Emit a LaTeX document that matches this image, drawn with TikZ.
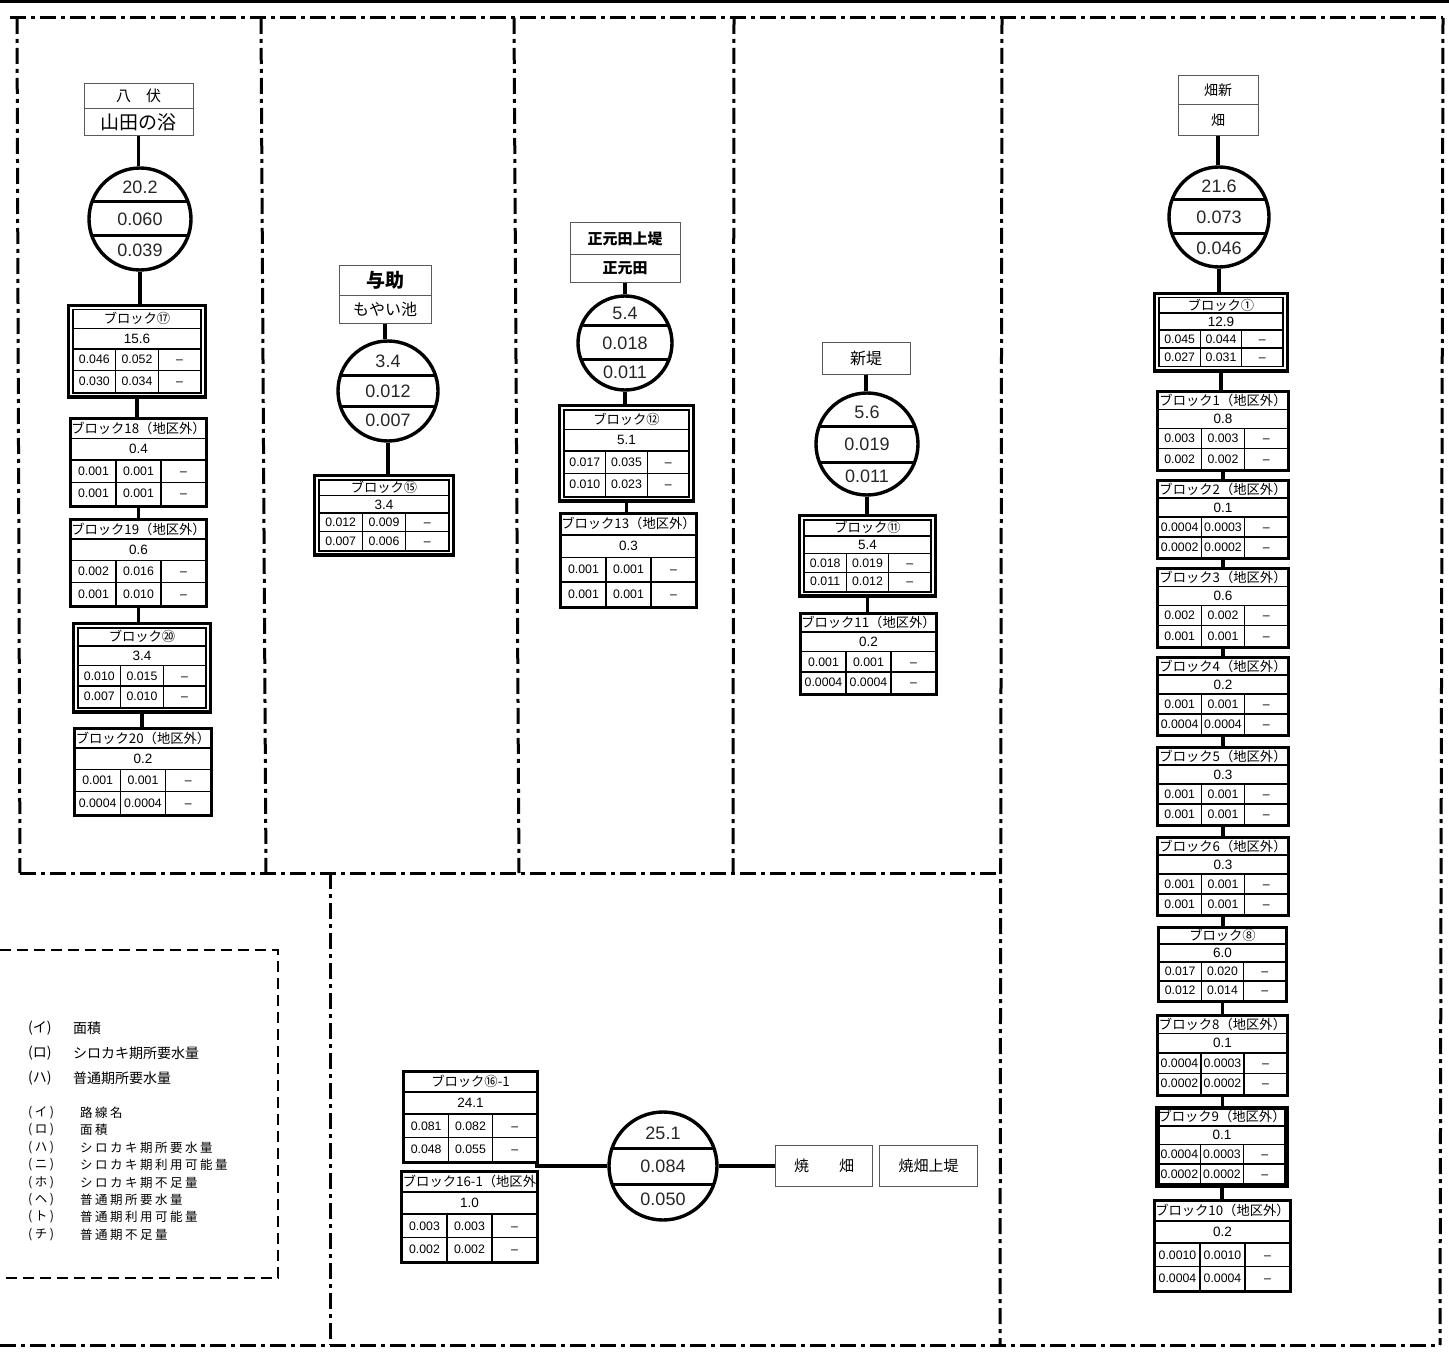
\documentclass[tikz,border=0pt]{standalone}
\usepackage{fontspec}
\setmainfont{Noto Sans CJK JP}
\newfontfamily\numf{Liberation Sans}
\usetikzlibrary{fit,calc}
\newcommand\fs[1]{\fontsize{#1}{#1}\selectfont}
\newcommand\nodash{\vphantom{0}–}
\def\blkdata#1/#2/#3/#4\relax{\def\dA{#1}\def\dB{#2}\def\dC{#3}\def\dD{#4}}
\tikzset{
  frame/.style={line width=3pt, dash pattern=on 16pt off 5pt on 4pt off 5pt},
  legendbox/.style={line width=2.6pt, dash pattern=on 11pt off 6pt},
  tbl/.style={draw, line width=1.5pt, inner sep=0pt, fill=white},
  cell/.style={line width=1.5pt},
  plain/.style={draw, line width=2.6pt, inner sep=0pt},
  hl/.style={draw, line width=3.6pt, inner sep=3.6pt},
  heavy/.style={draw, line width=4.6pt, inner sep=0pt},
  ttl/.style={inner sep=0pt, font=\fs{13.3}},
  val/.style={inner sep=0pt, font=\numf\fs{13.5}},
  dat/.style={inner sep=0pt, font=\numf\fs{12.3}},
  chord/.style={line width=3pt},
  tankc/.style={circle, draw, line width=3.4pt, inner sep=0pt},
  tnum/.style={inner sep=0pt, font=\numf\fs{18}, text=black!85},
  hdr/.style={draw=black!65, line width=1pt, inner sep=0pt, fill=white},
  conn/.style={line width=3.4pt},
  lgA/.style={inner sep=0pt, anchor=west, font=\fs{14}},
  lgB/.style={inner sep=0pt, anchor=west, font=\fs{12.5}\addfontfeature{LetterSpace=20}},
}
\newcommand\blk[9]{%
  \blkdata#9\relax
  \pgfmathsetmacro\yT{#3}%
  \pgfmathsetmacro\ya{#3+0.235*#5}%
  \pgfmathsetmacro\yb{#3+0.48*#5}%
  \pgfmathsetmacro\yc{#3+0.74*#5}%
  \pgfmathsetmacro\ye{#3+#5}%
  \pgfmathsetmacro\xl{#2-#4/2}%
  \pgfmathsetmacro\xr{#2+#4/2}%
  \pgfmathsetmacro\xa{#2-#4/6}%
  \pgfmathsetmacro\xb{#2+#4/6}%
  \node[tbl, minimum width=#4, minimum height=#5, anchor=north] (#1-t) at (#2,#3) {};
  \draw[cell] (\xl,\ya) -- (\xr,\ya) (\xl,\yb) -- (\xr,\yb) (\xl,\yc) -- (\xr,\yc)
              (\xa,\yb) -- (\xa,\ye) (\xb,\yb) -- (\xb,\ye);
  \node[ttl] (#1-n) at (#2,{(\yT+\ya)/2}) {#7};
  \node[val] (#1-v) at (#2,{(\ya+\yb)/2}) {#8};
  \node[dat] (#1-a) at ({(\xl+\xa)/2},{(\yb+\yc)/2}) {\dA};
  \node[dat] (#1-b) at ({(\xa+\xb)/2},{(\yb+\yc)/2}) {\dB};
  \node[dat] (#1-c) at ({(\xb+\xr)/2},{(\yb+\yc)/2}) {\nodash};
  \node[dat] (#1-d) at ({(\xl+\xa)/2},{(\yc+\ye)/2}) {\dC};
  \node[dat] (#1-e) at ({(\xa+\xb)/2},{(\yc+\ye)/2}) {\dD};
  \node[dat] (#1-f) at ({(\xb+\xr)/2},{(\yc+\ye)/2}) {\nodash};
  \node[fit=(#1-t), #6] (#1) {};
}
\newcommand\tank[8]{%
  \begin{scope}
    \clip (#2,#3) circle[radius=#4];
    \draw[chord] ({#2-#4},{#3-#5}) -- ({#2+#4},{#3-#5}) ({#2-#4},{#3+#5}) -- ({#2+#4},{#3+#5});
  \end{scope}
  \node[tankc, minimum size={2*#4}] (#1) at (#2,#3) {};
  \node[tnum] (#1-a) at (#2,{#3-#5-0.42*(#4-#5)}) {#6};
  \node[tnum] (#1-b) at (#2,#3) {#7};
  \node[tnum] (#1-c) at (#2,{#3+#5+0.42*(#4-#5)}) {#8};
}
\begin{document}
\begin{tikzpicture}[x=1pt,y=-1pt]
\path[use as bounding box, fill=white] (0,0) rectangle (1449,1356);
% page frame lines
\draw[line width=3pt] (0,1.5) -- (1449,1.5);
\draw[frame] (10,18) -- (1443,18);
\draw[frame] (17,18) -- (20,873);
\draw[frame] (261,18) -- (266,873);
\draw[frame] (514,18) -- (519,873);
\draw[frame] (734,18) -- (733,873);
\draw[frame] (1002,18) -- (1000,1345);
\draw[frame] (1443,18) -- (1440,1345);
\draw[frame] (20,873) -- (1000,873);
\draw[frame] (330,873) -- (330,1345);
\draw[frame] (0,1345) -- (1440,1345);
\draw[legendbox] (0,950) -- (278,950) -- (278,1278) -- (0,1278);

% ---------- column 1
\node[hdr, minimum width=109, minimum height=25, anchor=north, font=\fs{15}] (h1a) at (138.5,83) {八　伏};
\node[hdr, minimum width=109, minimum height=27, anchor=north, font=\fs{19}] (h1b) at (138.5,108) {山田の浴};
\tank{c1}{140}{219}{51}{17}{20.2}{0.060}{0.039}
\blk{b17}{137}{309}{128}{83}{hl}{ブロック⑰}{15.6}{0.046/0.052/0.030/0.034}
\blk{b18}{138.5}{418}{135}{87}{plain}{ブロック18（地区外）}{0.4}{0.001/0.001/0.001/0.001}
\blk{b19}{138.5}{519}{135}{86}{plain}{ブロック19（地区外）}{0.6}{0.002/0.016/0.001/0.010}
\blk{b20c}{142}{627}{128}{80}{hl}{ブロック⑳}{3.4}{0.010/0.015/0.007/0.010}
\blk{b20}{143}{728}{136}{86}{plain}{ブロック20（地区外）}{0.2}{0.001/0.001/0.0004/0.0004}
\draw[conn] (h1b.south) -- (h1b.south |- c1.north);
\draw[conn] (c1.south) -- (c1.south |- b17.north);
\draw[conn] (b17.south) -- (b17.south |- b18.north);
\draw[conn] (b18.south) -- (b18.south |- b19.north);
\draw[conn] (b19.south) -- (b19.south |- b20c.north);
\draw[conn] (b20c.south) -- (b20c.south |- b20.north);

% ---------- column 2
\node[hdr, minimum width=92, minimum height=30, anchor=north, font=\fs{19}\bfseries] (h2a) at (385,265) {与助};
\node[hdr, minimum width=92, minimum height=28, anchor=north, font=\fs{16}] (h2b) at (385,295) {もやい池};
\tank{c2}{388}{391}{50}{15}{3.4}{0.012}{0.007}
\blk{b15}{384}{479}{130}{71}{hl}{ブロック⑮}{3.4}{0.012/0.009/0.007/0.006}
\draw[conn] (h2b.south) -- (h2b.south |- c2.north);
\draw[conn] (c2.south) -- (c2.south |- b15.north);

% ---------- column 3
\node[hdr, minimum width=110, minimum height=32, anchor=north, font=\fs{15}\bfseries] (h3a) at (625,222) {正元田上堤};
\node[hdr, minimum width=110, minimum height=28, anchor=north, font=\fs{15}\bfseries] (h3b) at (625,254) {正元田};
\tank{c3}{625}{343}{47}{17}{5.4}{0.018}{0.011}
\blk{b12}{626.5}{409}{125}{87}{hl}{ブロック⑫}{5.1}{0.017/0.035/0.010/0.023}
\blk{b13}{628.5}{513}{135}{93}{plain}{ブロック13（地区外）}{0.3}{0.001/0.001/0.001/0.001}
\draw[conn] (h3b.south) -- (h3b.south |- c3.north);
\draw[conn] (c3.south) -- (c3.south |- b12.north);
\draw[conn] (b12.south) -- (b12.south |- b13.north);

% ---------- column 4
\node[hdr, minimum width=88, minimum height=32, anchor=north, font=\fs{16}] (h4) at (866,342) {新堤};
\tank{c4}{867}{444}{51}{18}{5.6}{0.019}{0.011}
\blk{b11c}{867.5}{519}{127}{72}{hl}{ブロック⑪}{5.4}{0.018/0.019/0.011/0.012}
\blk{b11}{868.5}{613}{135}{80}{plain}{ブロック11（地区外）}{0.2}{0.001/0.001/0.0004/0.0004}
\draw[conn] (h4.south) -- (h4.south |- c4.north);
\draw[conn] (c4.south) -- (c4.south |- b11c.north);
\draw[conn] (b11c.south) -- (b11c.south |- b11.north);

% ---------- column 5
\node[hdr, minimum width=80, minimum height=29, anchor=north, font=\fs{14}] (h5a) at (1218,75) {畑新};
\node[hdr, minimum width=80, minimum height=31, anchor=north, font=\fs{14}] (h5b) at (1218,104) {畑};
\tank{c5}{1219}{217}{50}{17}{21.6}{0.073}{0.046}
\blk{b1c}{1221}{297}{124}{69}{hl}{ブロック①}{12.9}{0.045/0.044/0.027/0.031}
\blk{b1}{1223}{391}{130}{78}{plain}{ブロック1（地区外）}{0.8}{0.003/0.003/0.002/0.002}
\blk{b2}{1223}{480}{130}{77}{plain}{ブロック2（地区外）}{0.1}{0.0004/0.0003/0.0002/0.0002}
\blk{b3}{1223}{568}{130}{78}{plain}{ブロック3（地区外）}{0.6}{0.002/0.002/0.001/0.001}
\blk{b4}{1223}{657}{130}{77}{plain}{ブロック4（地区外）}{0.2}{0.001/0.001/0.0004/0.0004}
\blk{b5}{1223}{747}{130}{77}{plain}{ブロック5（地区外）}{0.3}{0.001/0.001/0.001/0.001}
\blk{b6}{1223}{837}{130}{77}{plain}{ブロック6（地区外）}{0.3}{0.001/0.001/0.001/0.001}
\blk{b8c}{1222.5}{927}{127}{73}{plain}{ブロック⑧}{6.0}{0.017/0.020/0.012/0.014}
\blk{b8}{1222.5}{1015}{129}{79}{plain}{ブロック8（地区外）}{0.1}{0.0004/0.0003/0.0002/0.0002}
\blk{b9}{1222}{1108}{128}{76}{heavy}{ブロック9（地区外）}{0.1}{0.0004/0.0003/0.0002/0.0002}
\blk{b10}{1222.5}{1200}{135}{90}{plain}{ブロック10（地区外）}{0.2}{0.0010/0.0010/0.0004/0.0004}
\draw[conn] (h5b.south) -- (h5b.south |- c5.north);
\draw[conn] (c5.south) -- (c5.south |- b1c.north);
\draw[conn] (b1c.south) -- (b1c.south |- b1.north);
\draw[conn] (b1.south) -- (b1.south |- b2.north);
\draw[conn] (b2.south) -- (b2.south |- b3.north);
\draw[conn] (b3.south) -- (b3.south |- b4.north);
\draw[conn] (b4.south) -- (b4.south |- b5.north);
\draw[conn] (b5.south) -- (b5.south |- b6.north);
\draw[conn] (b6.south) -- (b6.south |- b8c.north);
\draw[conn] (b8c.south) -- (b8c.south |- b8.north);
\draw[conn] (b8.south) -- (b8.south |- b9.north);
\draw[conn] (b9.south) -- (b9.south |- b10.north);

% ---------- bottom group
\blk{b16c}{470.5}{1071}{133}{90}{plain}{ブロック⑯-1}{24.1}{0.081/0.082/0.048/0.055}
\blk{b16}{469.5}{1171}{135}{90}{plain}{ブロック16-1（地区外}{1.0}{0.003/0.003/0.002/0.002}
\tank{c6}{663}{1166}{54}{18}{25.1}{0.084}{0.050}
\node[hdr, minimum width=97, minimum height=41, anchor=west, font=\fs{15}] (h6a) at (775,1165.5) {焼　　畑};
\node[hdr, minimum width=98, minimum height=41, anchor=west, font=\fs{15}] (h6b) at (879,1165.5) {焼畑上堤};
\coordinate (lend) at (535,1166);
\draw[conn] (c6.west) -- (lend);
\draw[conn] (c6.east) -- (c6.east -| h6a.west);

% ---------- legend
\node[lgA] (la1) at (28,1028) {(イ)};
\node[lgA] (la2) at (73,1028) {面積};
\node[lgA] (lb1) at (28,1053) {(ロ)};
\node[lgA] (lb2) at (73,1053) {シロカキ期所要水量};
\node[lgA] (lc1) at (28,1078) {(ハ)};
\node[lgA] (lc2) at (73,1078) {普通期所要水量};
\node[lgB] (m1a) at (28,1113) {(イ)};
\node[lgB] (m1b) at (80,1113) {路線名};
\node[lgB] (m2a) at (28,1130) {(ロ)};
\node[lgB] (m2b) at (80,1130) {面積};
\node[lgB] (m3a) at (28,1148) {(ハ)};
\node[lgB] (m3b) at (80,1148) {シロカキ期所要水量};
\node[lgB] (m4a) at (28,1165) {(ニ)};
\node[lgB] (m4b) at (80,1165) {シロカキ期利用可能量};
\node[lgB] (m5a) at (28,1183) {(ホ)};
\node[lgB] (m5b) at (80,1183) {シロカキ期不足量};
\node[lgB] (m6a) at (28,1200) {(ヘ)};
\node[lgB] (m6b) at (80,1200) {普通期所要水量};
\node[lgB] (m7a) at (28,1217) {(ト)};
\node[lgB] (m7b) at (80,1217) {普通期利用可能量};
\node[lgB] (m8a) at (28,1235) {(チ)};
\node[lgB] (m8b) at (80,1235) {普通期不足量};
\end{tikzpicture}
\end{document}
